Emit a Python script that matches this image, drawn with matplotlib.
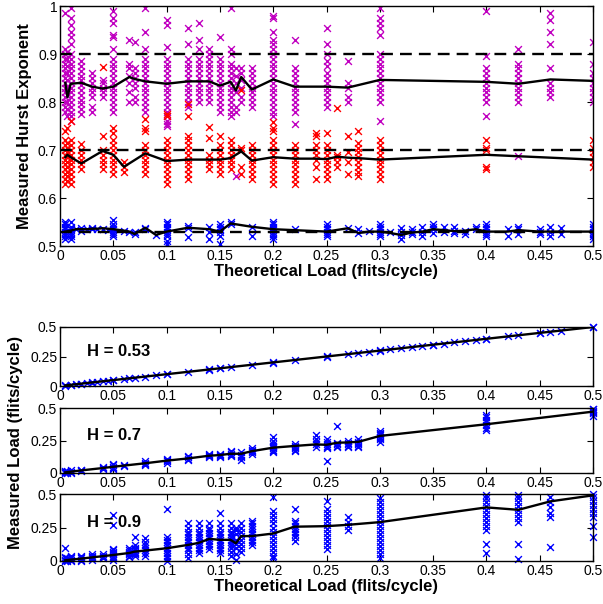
import matplotlib
matplotlib.use('Agg')
import matplotlib.pyplot as plt

plt.rcParams['font.family'] = ['Liberation Sans', 'DejaVu Sans']

# ---------------- data ----------------
x_ticks = [0, 0.05, 0.1, 0.15, 0.2, 0.25, 0.3, 0.35, 0.4, 0.45, 0.5]
x_tick_labels = ['0', '0.05', '0.1', '0.15', '0.2', '0.25', '0.3', '0.35', '0.4', '0.45', '0.5']
hurst_ticks = [0.5, 0.6, 0.7, 0.8, 0.9, 1.0]
hurst_tick_labels = ['0.5', '0.6', '0.7', '0.8', '0.9', '1']
load_ticks = [0, 0.25, 0.5]
load_tick_labels = ['0', '0.25', '0.5']
target_hurst = [0.9, 0.7, 0.53]

# H = 0.9 runs
loads09 = [0.005, 0.007, 0.01, 0.02, 0.03, 0.04, 0.05, 0.065, 0.07, 0.08, 0.1, 0.12, 0.13, 0.14,
           0.15, 0.16, 0.165, 0.17, 0.18, 0.2, 0.22, 0.25, 0.27, 0.3, 0.4, 0.43, 0.46, 0.5]
hurst09 = [
    [0.78, 0.79, 0.80, 0.81, 0.82, 0.83, 0.84, 0.85, 0.86, 0.87, 0.88, 0.89, 0.90, 0.91, 0.985],
    [0.77, 0.785, 0.80, 0.815, 0.83, 0.845, 0.86, 0.875, 0.89, 0.905],
    [0.76, 0.77, 0.78, 0.79, 0.80, 0.81, 0.82, 0.83, 0.84, 0.85, 0.86, 0.87, 0.88, 0.89, 0.90, 0.92, 0.935, 0.945, 0.96, 0.975, 0.995],
    [0.775, 0.785, 0.795, 0.805, 0.815, 0.825, 0.835, 0.845, 0.855, 0.865, 0.875, 0.885],
    [0.78, 0.79, 0.81, 0.82, 0.83, 0.84, 0.85, 0.86],
    [0.81, 0.82, 0.83, 0.84, 0.845],
    [0.78, 0.79, 0.80, 0.81, 0.82, 0.83, 0.84, 0.85, 0.86, 0.87, 0.88, 0.89, 0.91, 0.935, 0.94, 0.965, 0.975, 0.99],
    [0.80, 0.82, 0.84, 0.855, 0.87, 0.88, 0.93],
    [0.80, 0.81, 0.83, 0.84, 0.85, 0.86, 0.87, 0.925],
    [0.78, 0.79, 0.80, 0.81, 0.82, 0.83, 0.84, 0.85, 0.86, 0.87, 0.88, 0.89, 0.91, 0.945, 0.995],
    [0.75, 0.755, 0.76, 0.77, 0.78, 0.79, 0.80, 0.81, 0.82, 0.83, 0.84, 0.85, 0.86, 0.87, 0.88, 0.89, 0.915, 0.96, 0.97],
    [0.79, 0.80, 0.81, 0.82, 0.83, 0.84, 0.85, 0.86, 0.87, 0.88, 0.89, 0.92, 0.955],
    [0.80, 0.81, 0.82, 0.83, 0.84, 0.85, 0.86, 0.87, 0.88, 0.89, 0.91, 0.93, 0.965],
    [0.80, 0.81, 0.82, 0.83, 0.84, 0.85, 0.86, 0.87, 0.88, 0.89, 0.90, 0.91],
    [0.78, 0.79, 0.80, 0.81, 0.82, 0.83, 0.84, 0.85, 0.86, 0.87, 0.88, 0.89, 0.935],
    [0.77, 0.78, 0.79, 0.80, 0.81, 0.82, 0.83, 0.84, 0.85, 0.86, 0.87, 0.88, 0.90, 0.91, 0.995],
    [0.645, 0.78, 0.79, 0.82, 0.84, 0.855, 0.87],
    [0.80, 0.81, 0.83, 0.845, 0.86, 0.87],
    [0.79, 0.80, 0.81, 0.82, 0.83, 0.84, 0.85, 0.86, 0.87],
    [0.77, 0.78, 0.79, 0.80, 0.81, 0.82, 0.83, 0.84, 0.85, 0.86, 0.87, 0.88, 0.89, 0.90, 0.91, 0.92, 0.93, 0.945, 0.975, 0.98],
    [0.755, 0.78, 0.79, 0.80, 0.81, 0.82, 0.83, 0.84, 0.85, 0.86, 0.87, 0.93],
    [0.79, 0.80, 0.81, 0.82, 0.83, 0.84, 0.85, 0.86, 0.875, 0.885, 0.90, 0.92, 0.955],
    [0.80, 0.81, 0.83, 0.84, 0.885],
    [0.76, 0.80, 0.81, 0.82, 0.83, 0.84, 0.85, 0.86, 0.87, 0.88, 0.89, 0.90, 0.94, 0.955, 0.965, 0.975, 0.995],
    [0.77, 0.80, 0.81, 0.82, 0.83, 0.84, 0.85, 0.86, 0.87, 0.895, 0.99],
    [0.688, 0.80, 0.81, 0.82, 0.83, 0.84, 0.85, 0.86, 0.87, 0.88, 0.91],
    [0.81, 0.82, 0.83, 0.84, 0.87, 0.92, 0.945, 0.97, 0.985],
    [0.80, 0.81, 0.82, 0.83, 0.84, 0.85, 0.86, 0.88, 0.925],
]
hurst09_mean = [0.84, 0.81, 0.838, 0.84, 0.832, 0.828, 0.832, 0.852, 0.848, 0.843, 0.838, 0.843, 0.843, 0.843,
                0.834, 0.842, 0.824, 0.852, 0.826, 0.847, 0.832, 0.832, 0.83, 0.846, 0.842, 0.838, 0.847, 0.844]
meas09 = [
    [0.0, 0.01, 0.02, 0.03, 0.1],
    [0.0, 0.01, 0.02],
    [0.0, 0.01, 0.02, 0.03, 0.04],
    [0.0, 0.01, 0.02, 0.03, 0.04],
    [0.01, 0.02, 0.03, 0.04, 0.05],
    [0.02, 0.03, 0.04, 0.05],
    [0.01, 0.02, 0.03, 0.04, 0.05, 0.06, 0.07, 0.08, 0.09, 0.27, 0.34],
    [0.03, 0.04, 0.05, 0.06, 0.07, 0.08, 0.1],
    [0.04, 0.05, 0.06, 0.07, 0.08, 0.09, 0.1, 0.12, 0.18],
    [0.04, 0.06, 0.08, 0.1, 0.12, 0.14, 0.17],
    [0.0, 0.02, 0.04, 0.06, 0.08, 0.1, 0.12, 0.14, 0.16, 0.18, 0.39],
    [0.02, 0.05, 0.08, 0.1, 0.12, 0.14, 0.16, 0.18, 0.2, 0.22, 0.25, 0.28],
    [0.06, 0.08, 0.1, 0.12, 0.14, 0.16, 0.18, 0.2, 0.22, 0.25, 0.28],
    [0.09, 0.11, 0.13, 0.15, 0.17, 0.19, 0.21, 0.23, 0.25, 0.28],
    [0.06, 0.08, 0.1, 0.12, 0.14, 0.16, 0.18, 0.2, 0.22, 0.25, 0.28, 0.36],
    [0.04, 0.07, 0.1, 0.12, 0.14, 0.16, 0.18, 0.2, 0.22, 0.25, 0.28],
    [0.01, 0.05, 0.1, 0.13, 0.16, 0.2, 0.23, 0.25],
    [0.07, 0.1, 0.13, 0.16, 0.19, 0.22, 0.25, 0.28],
    [0.12, 0.14, 0.16, 0.18, 0.2, 0.22, 0.24, 0.26, 0.28, 0.3],
    [0.02, 0.04, 0.07, 0.1, 0.13, 0.16, 0.19, 0.22, 0.25, 0.28, 0.31, 0.34, 0.37, 0.48],
    [0.15, 0.18, 0.2, 0.22, 0.24, 0.26, 0.28, 0.3, 0.39],
    [0.09, 0.12, 0.15, 0.18, 0.21, 0.24, 0.27, 0.3, 0.33, 0.36, 0.39, 0.445],
    [0.23, 0.26, 0.29, 0.33],
    [0.02, 0.05, 0.08, 0.11, 0.14, 0.17, 0.2, 0.23, 0.26, 0.29, 0.32, 0.35, 0.38, 0.41, 0.44, 0.47],
    [0.063, 0.13, 0.23, 0.26, 0.29, 0.32, 0.35, 0.38, 0.41, 0.44, 0.47, 0.49],
    [0.018, 0.13, 0.29, 0.32, 0.35, 0.38, 0.41, 0.44, 0.47, 0.49],
    [0.105, 0.33, 0.36, 0.40, 0.44, 0.48],
    [0.18, 0.26, 0.33, 0.36, 0.39, 0.42, 0.45, 0.48, 0.50],
]
meas09_mean = [0.005, 0.007, 0.01, 0.018, 0.027, 0.036, 0.045, 0.06, 0.07, 0.078, 0.095, 0.12, 0.135, 0.165,
               0.158, 0.158, 0.132, 0.186, 0.186, 0.205, 0.256, 0.26, 0.27, 0.29, 0.40, 0.382, 0.445, 0.49]

# H = 0.7 runs
loads07 = [0.005, 0.007, 0.01, 0.02, 0.04, 0.05, 0.06, 0.08, 0.1, 0.12, 0.14, 0.15, 0.16, 0.17,
           0.18, 0.2, 0.22, 0.24, 0.25, 0.26, 0.27, 0.28, 0.3, 0.4, 0.5]
hurst07 = [
    [0.63, 0.64, 0.65, 0.66, 0.67, 0.68, 0.69, 0.70, 0.71, 0.72, 0.74],
    [0.635, 0.645, 0.655, 0.665, 0.675, 0.685, 0.695, 0.705, 0.715, 0.745],
    [0.63, 0.64, 0.65, 0.66, 0.67, 0.68, 0.69, 0.70, 0.71, 0.72, 0.76],
    [0.66, 0.67, 0.68, 0.69, 0.70, 0.713],
    [0.66, 0.67, 0.68, 0.69, 0.70, 0.73, 0.873],
    [0.65, 0.66, 0.67, 0.68, 0.69, 0.70, 0.71, 0.72, 0.735, 0.745],
    [0.655, 0.665, 0.675],
    [0.65, 0.66, 0.67, 0.68, 0.69, 0.70, 0.71, 0.74, 0.745, 0.765],
    [0.63, 0.64, 0.65, 0.66, 0.67, 0.68, 0.69, 0.70, 0.71, 0.72, 0.77, 0.775],
    [0.64, 0.65, 0.66, 0.67, 0.68, 0.69, 0.70, 0.71, 0.72, 0.73, 0.77, 0.796],
    [0.66, 0.67, 0.68, 0.69, 0.725, 0.747],
    [0.65, 0.66, 0.67, 0.68, 0.69, 0.70, 0.71, 0.73],
    [0.66, 0.67, 0.68, 0.69, 0.70, 0.71, 0.72],
    [0.65, 0.665, 0.70, 0.705, 0.826],
    [0.64, 0.65, 0.66, 0.67, 0.68, 0.69, 0.70, 0.71],
    [0.63, 0.64, 0.65, 0.66, 0.67, 0.68, 0.69, 0.70, 0.71, 0.72, 0.74, 0.745, 0.759],
    [0.63, 0.64, 0.65, 0.66, 0.67, 0.68, 0.69, 0.70, 0.71],
    [0.64, 0.665, 0.68, 0.69, 0.70, 0.71, 0.73, 0.735],
    [0.64, 0.65, 0.66, 0.67, 0.68, 0.69, 0.70, 0.71, 0.735],
    [0.665, 0.675, 0.685, 0.69, 0.787],
    [0.65, 0.675, 0.695, 0.73],
    [0.645, 0.655, 0.665, 0.675, 0.685, 0.695, 0.705, 0.715, 0.74],
    [0.64, 0.65, 0.66, 0.67, 0.68, 0.69, 0.70, 0.71, 0.72],
    [0.66, 0.665, 0.70, 0.705, 0.72],
    [0.665, 0.675, 0.685, 0.695, 0.705, 0.72],
]
hurst07_mean = [0.685, 0.69, 0.685, 0.672, 0.698, 0.69, 0.665, 0.693, 0.677, 0.68, 0.68, 0.68, 0.683, 0.697,
                0.678, 0.685, 0.682, 0.682, 0.681, 0.686, 0.684, 0.683, 0.68, 0.69, 0.68]
meas07 = [
    [0.0, 0.005, 0.01, 0.015],
    [0.0, 0.007, 0.014],
    [0.0, 0.01, 0.02],
    [0.015, 0.02, 0.025],
    [0.03, 0.04, 0.05],
    [0.03, 0.04, 0.05, 0.06, 0.07],
    [0.055, 0.06],
    [0.06, 0.07, 0.08, 0.09],
    [0.08, 0.09, 0.1, 0.11],
    [0.1, 0.11, 0.12, 0.13],
    [0.12, 0.13, 0.14, 0.15],
    [0.12, 0.13, 0.14, 0.15],
    [0.13, 0.14, 0.15, 0.16, 0.17],
    [0.1, 0.12, 0.13, 0.14, 0.16],
    [0.15, 0.16, 0.17, 0.18, 0.19],
    [0.16, 0.17, 0.18, 0.19, 0.2, 0.21, 0.22, 0.25, 0.28],
    [0.17, 0.18, 0.19, 0.2, 0.21, 0.22],
    [0.2, 0.22, 0.24, 0.26, 0.29],
    [0.094, 0.19, 0.2, 0.21, 0.22, 0.24, 0.26],
    [0.2, 0.21, 0.22, 0.23, 0.36],
    [0.2, 0.21, 0.22, 0.23, 0.25],
    [0.2, 0.21, 0.22, 0.23, 0.24, 0.26],
    [0.24, 0.26, 0.27, 0.28, 0.29, 0.3, 0.31, 0.325],
    [0.33, 0.35, 0.37, 0.39, 0.41, 0.43, 0.45],
    [0.44, 0.46, 0.47, 0.48, 0.49, 0.495],
]
meas07_mean = [0.005, 0.007, 0.01, 0.02, 0.038, 0.048, 0.057, 0.075, 0.095, 0.112, 0.133, 0.138, 0.148, 0.148,
               0.168, 0.195, 0.208, 0.22, 0.217, 0.233, 0.235, 0.24, 0.285, 0.375, 0.472]

# H = 0.53 runs
loads053 = [0.005, 0.01, 0.015, 0.02, 0.025, 0.03, 0.035, 0.04, 0.045, 0.05, 0.06, 0.065, 0.07, 0.08,
            0.09, 0.1, 0.12, 0.14, 0.15, 0.16, 0.18, 0.2, 0.22, 0.25, 0.27, 0.28, 0.29, 0.3,
            0.31, 0.32, 0.33, 0.34, 0.35, 0.36, 0.37, 0.38, 0.39, 0.4, 0.42, 0.43, 0.45, 0.46, 0.47, 0.5]
hurst053 = [
    [0.515, 0.52, 0.525, 0.53, 0.535, 0.54, 0.545, 0.55],
    [0.515, 0.52, 0.525, 0.53, 0.535, 0.54, 0.55],
    [0.535], [0.532, 0.537], [0.535], [0.535, 0.538], [0.536], [0.535], [0.533],
    [0.52, 0.525, 0.53, 0.535, 0.54, 0.545, 0.555],
    [0.532], [0.53], [0.525, 0.53], [0.535, 0.538], [0.523],
    [0.505, 0.51, 0.52, 0.525, 0.53, 0.535, 0.54, 0.545, 0.55],
    [0.518, 0.538, 0.542],
    [0.515, 0.53, 0.54],
    [0.505, 0.52, 0.53, 0.535, 0.54, 0.545],
    [0.545, 0.55],
    [0.52, 0.54],
    [0.515, 0.52, 0.525, 0.53, 0.535, 0.54, 0.545, 0.55],
    [0.535],
    [0.52, 0.525, 0.53, 0.535, 0.54, 0.545],
    [0.537], [0.527, 0.535], [0.532],
    [0.52, 0.525, 0.53, 0.535, 0.54, 0.545],
    [0.53], [0.515, 0.522, 0.53, 0.537], [0.525, 0.53, 0.535], [0.52, 0.53, 0.54],
    [0.528, 0.535, 0.54, 0.545], [0.53, 0.54], [0.527, 0.532, 0.54], [0.525, 0.532], [0.535, 0.54],
    [0.52, 0.525, 0.53, 0.535, 0.54, 0.545],
    [0.52, 0.535], [0.525, 0.535, 0.54], [0.525, 0.53, 0.535], [0.52, 0.53, 0.54], [0.525, 0.538],
    [0.515, 0.52, 0.525, 0.53, 0.535, 0.54, 0.545],
]
hurst053_mean = [0.53, 0.532, 0.535, 0.535, 0.535, 0.536, 0.536, 0.537, 0.536, 0.535, 0.532, 0.530, 0.525, 0.538,
                 0.523, 0.53, 0.538, 0.535, 0.53, 0.547, 0.54, 0.535, 0.533, 0.53, 0.537, 0.527, 0.53, 0.53,
                 0.527, 0.523, 0.528, 0.53, 0.535, 0.533, 0.531, 0.532, 0.535, 0.53, 0.53, 0.533, 0.53, 0.53, 0.53, 0.53]
meas053 = [
    [0.003, 0.006], [0.008, 0.011], [0.015], [0.019, 0.021], [0.025], [0.029, 0.031], [0.035], [0.04],
    [0.045], [0.048, 0.051], [0.06], [0.065], [0.07], [0.08], [0.09], [0.098, 0.101], [0.12],
    [0.139, 0.141], [0.149, 0.151], [0.16], [0.18], [0.199, 0.201], [0.22], [0.249, 0.251], [0.27],
    [0.28], [0.29], [0.298, 0.301], [0.31], [0.32], [0.33], [0.34], [0.349, 0.351], [0.36], [0.37],
    [0.38], [0.39], [0.398, 0.401], [0.42], [0.43], [0.449, 0.451], [0.46], [0.47], [0.498, 0.5],
]
meas053_mean = [0.005, 0.01, 0.015, 0.02, 0.025, 0.03, 0.035, 0.04, 0.045, 0.05, 0.06, 0.065, 0.07, 0.08,
                0.09, 0.1, 0.12, 0.14, 0.15, 0.16, 0.18, 0.2, 0.22, 0.25, 0.27, 0.28, 0.29, 0.3,
                0.31, 0.32, 0.33, 0.34, 0.35, 0.36, 0.37, 0.38, 0.39, 0.4, 0.42, 0.43, 0.45, 0.46, 0.47, 0.5]

panel_titles = ['H = 0.53', 'H = 0.7', 'H = 0.9']

# ---------------- plotting ----------------
MAG = '#c000c0'
RED = '#ff0000'
BLUE = '#0000ff'
MS = 24
MLW = 1.0


def flatten(loads, cols):
    xs, ys = [], []
    for l, c in zip(loads, cols):
        xs += [l] * len(c)
        ys += list(c)
    return xs, ys


def style(ax, yticks, ylabels):
    ax.set_xlim(0, 0.5)
    ax.set_xticks(x_ticks)
    ax.set_xticklabels(x_tick_labels)
    ax.set_yticks(yticks)
    ax.set_yticklabels(ylabels)
    ax.tick_params(direction='in', top=True, right=True, length=4, width=0.8,
                   labelsize=10, pad=2)
    for s in ax.spines.values():
        s.set_linewidth(1.0)


W, H = 603.0, 604.0


def rect(l, t, r, b):
    return [l / W, 1 - b / H, (r - l) / W, (b - t) / H]


fig = plt.figure(figsize=(6.03, 6.04), dpi=100)

ax0 = fig.add_axes(rect(60, 6, 593, 246))
for loads, cols, col in [(loads09, hurst09, MAG), (loads07, hurst07, RED), (loads053, hurst053, BLUE)]:
    xs, ys = flatten(loads, cols)
    ax0.scatter(xs, ys, marker='x', s=MS, c=col, linewidths=MLW, zorder=2)
for t in target_hurst:
    ax0.axhline(t, color='black', lw=1.7, ls=(0, (5, 3)), zorder=3)
ax0.plot(loads09, hurst09_mean, color='black', lw=1.7, zorder=4)
ax0.plot(loads07, hurst07_mean, color='black', lw=1.7, zorder=4)
ax0.plot(loads053, hurst053_mean, color='black', lw=1.7, zorder=4)
ax0.set_ylim(0.5, 1.0)
style(ax0, hurst_ticks, hurst_tick_labels)
ax0.set_xlabel('Theoretical Load (flits/cycle)', fontsize=12, fontweight='bold', labelpad=1)
ax0.set_ylabel('Measured Hurst Exponent', fontsize=12, fontweight='bold', labelpad=4)

panel_rects = [rect(60, 327, 593, 386), rect(60, 408, 593, 473), rect(60, 494, 593, 561)]
panel_data = [(loads053, meas053, meas053_mean), (loads07, meas07, meas07_mean), (loads09, meas09, meas09_mean)]
axes = []
for r, (loads, cols, mean), title in zip(panel_rects, panel_data, panel_titles):
    ax = fig.add_axes(r)
    xs, ys = flatten(loads, cols)
    ax.scatter(xs, ys, marker='x', s=MS, c=BLUE, linewidths=MLW, zorder=2, clip_on=False)
    ax.plot(loads, mean, color='black', lw=1.7, zorder=4)
    ax.set_ylim(0, 0.5)
    style(ax, load_ticks, load_tick_labels)
    ax.text(0.025, 0.29, title, fontsize=12, fontweight='bold', ha='left', va='center', zorder=5)
    axes.append(ax)

axes[-1].set_xlabel('Theoretical Load (flits/cycle)', fontsize=12, fontweight='bold', labelpad=1)
fig.text(16 / W, 1 - 442 / H, 'Measured Load (flits/cycle)', rotation=90, fontsize=12,
         fontweight='bold', ha='center', va='center')

fig.savefig('out.png', dpi=100)
